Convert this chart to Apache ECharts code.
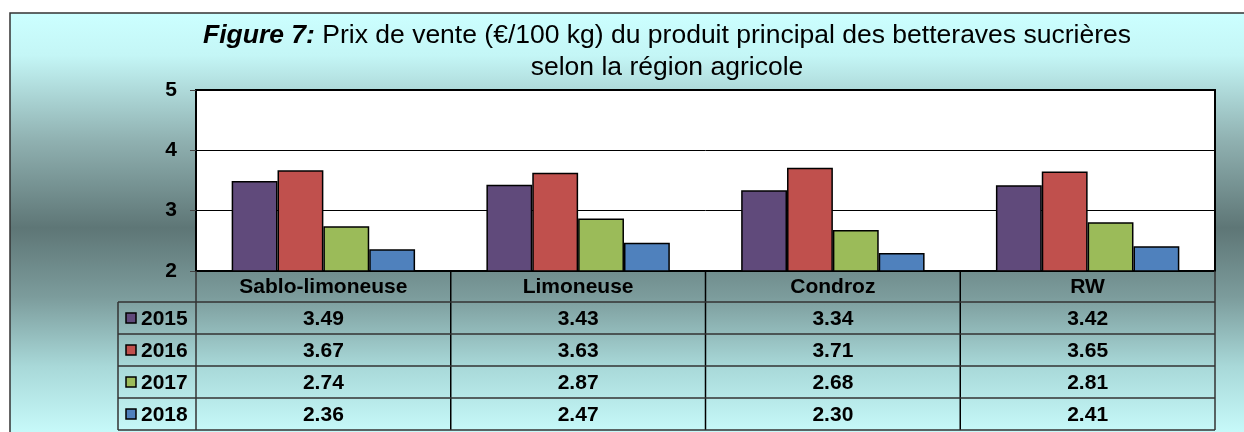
<!DOCTYPE html>
<html lang="fr">
<head>
    <meta charset="UTF-8">
    <title>Figure 7</title>
    <script src="https://cdn.jsdelivr.net/npm/echarts@6/dist/echarts.min.js"></script>
    <style>
        html, body { margin: 0; padding: 0; background: #fff; }
        #main { width: 1244px; height: 432px; }
    </style>
</head>
<body>
<div id="main"></div>
<script>
    // données
    const categories = ['Sablo-limoneuse', 'Limoneuse', 'Condroz', 'RW'];
    const years = ['2015', '2016', '2017', '2018'];
    const prix2015 = [3.49, 3.43, 3.34, 3.42];
    const prix2016 = [3.67, 3.63, 3.71, 3.65];
    const prix2017 = [2.74, 2.87, 2.68, 2.81];
    const prix2018 = [2.36, 2.47, 2.30, 2.41];
    const yTicks = [2, 3, 4, 5];

    const seriesData = [prix2015, prix2016, prix2017, prix2018];
    const colors = ['#604A7B', '#C0504D', '#9BBB59', '#4F81BD'];
    const font = 'Liberation Sans, Arial, sans-serif';

    const chart = echarts.init(document.getElementById('main'));

    const option = {
        animation: false,
        grid: {
            left: 196, right: 29, top: 90, bottom: 161,
            show: true, backgroundColor: '#fff', borderColor: '#000', borderWidth: 2
        },
        xAxis: {
            type: 'category',
            data: categories,
            axisLine: { lineStyle: { color: '#000', width: 2 } },
            axisTick: { show: false },
            axisLabel: { show: false }
        },
        yAxis: {
            type: 'value',
            min: yTicks[0], max: yTicks[yTicks.length - 1], interval: 1,
            axisLine: { show: true, lineStyle: { color: '#000', width: 2 } },
            axisTick: { show: true, length: 6, lineStyle: { color: '#444' } },
            axisLabel: { color: '#000', fontFamily: font, fontWeight: 'bold', fontSize: 21, margin: 19 },
            splitLine: { lineStyle: { color: '#000', width: 1 } }
        },
        series: years.map((y, i) => ({
            name: y,
            type: 'bar',
            data: seriesData[i],
            barGap: '0%',
            barCategoryGap: '28%',
            itemStyle: { color: colors[i], borderColor: '#000', borderWidth: 1.5 }
        }))
    };
    chart.setOption(option);

    // tableau de données sous le graphique
    const tTop = 271, headH = 31, rowH = 32;
    const xL = 118, xP = 196, xR = 1215;
    const g = [];

    g.push({
        type: 'rect', z: -100, silent: true,
        shape: { x: 10, y: 13, width: 1240, height: 430 },
        style: {
            stroke: '#333', lineWidth: 1.5,
            fill: new echarts.graphic.LinearGradient(0, 0, 0, 1, [
                { offset: 0, color: '#CCFFFF' },
                { offset: 0.1, color: '#C4F6F6' },
                { offset: 0.3, color: '#8FB0B0' },
                { offset: 0.5, color: '#5E7676' },
                { offset: 0.66, color: '#7C9C9C' },
                { offset: 0.82, color: '#A8D8D8' },
                { offset: 1, color: '#CCFFFF' }
            ])
        }
    });

    g.push({
        type: 'text', z: 10,
        style: {
            x: 667, y: 36, align: 'center', verticalAlign: 'middle',
            text: '{b|Figure 7:} Prix de vente (€/100 kg) du produit principal des betteraves sucrières',
            font: '26.5px ' + font, fill: '#000',
            rich: { b: { fontWeight: 'bold', fontStyle: 'italic', fontSize: 26.5, fontFamily: font } }
        }
    });
    g.push({
        type: 'text', z: 10,
        style: {
            x: 667, y: 68, align: 'center', verticalAlign: 'middle',
            text: 'selon la région agricole', font: '26.5px ' + font, fill: '#000'
        }
    });

    const colEdges = [xP];
    categories.forEach((c, i) => {
        const cx = chart.convertToPixel({ xAxisIndex: 0 }, c);
        const half = (xR - xP) / categories.length / 2;
        colEdges.push(cx + half);
        g.push({
            type: 'text', z: 10,
            style: { x: cx, y: tTop + headH / 2 + 1, align: 'center', verticalAlign: 'middle',
                text: c, font: 'bold 21px ' + font, fill: '#000' }
        });
        seriesData.forEach((arr, r) => {
            g.push({
                type: 'text', z: 10,
                style: { x: cx, y: tTop + headH + rowH * r + rowH / 2 + 1, align: 'center', verticalAlign: 'middle',
                    text: arr[i].toFixed(2), font: 'bold 21px ' + font, fill: '#000' }
            });
        });
    });

    const bottom = tTop + headH + rowH * years.length;
    colEdges.forEach((x, i) => {
        g.push({ type: 'line', z: 10, shape: { x1: x, y1: tTop, x2: x, y2: bottom },
            style: { stroke: (i === 0 || i === colEdges.length - 1) ? '#333' : '#000', lineWidth: 1.5 } });
    });
    g.push({ type: 'line', z: 10, shape: { x1: xL, y1: tTop + headH, x2: xL, y2: bottom },
        style: { stroke: '#333', lineWidth: 1.5 } });
    for (let r = 0; r <= years.length; r++) {
        const y = tTop + headH + rowH * r;
        g.push({ type: 'line', z: 10, shape: { x1: xL, y1: y, x2: xR, y2: y },
            style: { stroke: '#333', lineWidth: 1.5 } });
    }

    years.forEach((y, r) => {
        const cy = tTop + headH + rowH * r + rowH / 2;
        g.push({ type: 'rect', z: 10, shape: { x: 126, y: cy - 5, width: 10, height: 10 },
            style: { fill: colors[r], stroke: '#000', lineWidth: 1.5 } });
        g.push({ type: 'text', z: 10,
            style: { x: 141, y: cy + 1, align: 'left', verticalAlign: 'middle',
                text: y, font: 'bold 21px ' + font, fill: '#000' } });
    });

    chart.setOption({ graphic: { elements: g } });
</script>
</body>
</html>
